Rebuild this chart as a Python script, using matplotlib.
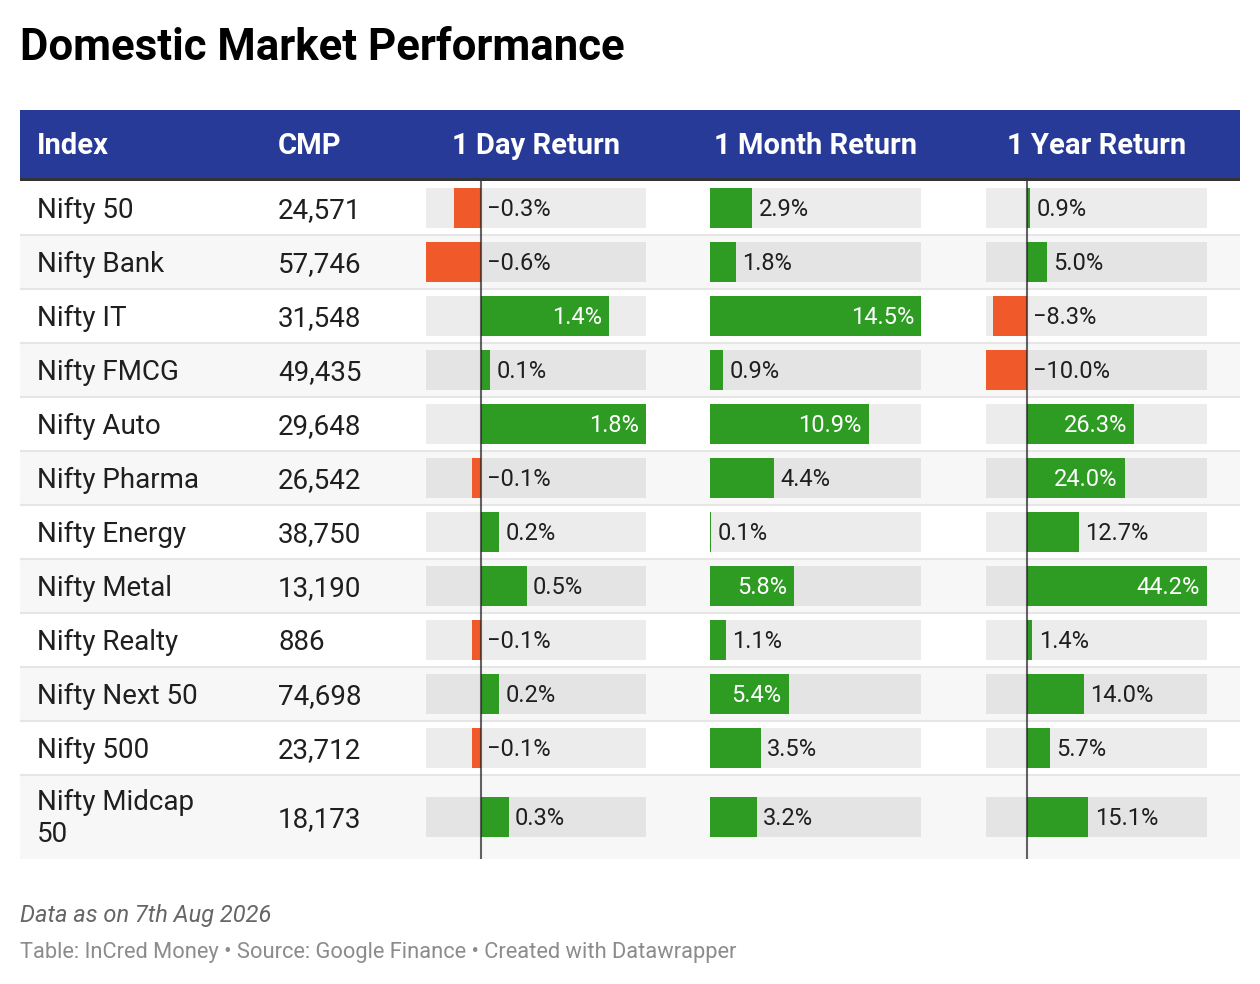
import numpy as np
import matplotlib
matplotlib.use('Agg')
import matplotlib.pyplot as plt
from matplotlib.patches import Rectangle


indices = ['Nifty 50', 'Nifty Bank', 'Nifty IT', 'Nifty FMCG', 'Nifty Auto', 'Nifty Pharma',
           'Nifty Energy', 'Nifty Metal', 'Nifty Realty', 'Nifty Next 50', 'Nifty 500',
           'Nifty Midcap\n50']
cmp_values = ['24,571', '57,746', '31,548', '49,435', '29,648', '26,542',
              '38,750', '13,190', '886', '74,698', '23,712', '18,173']
day_return = [-0.3, -0.6, 1.4, 0.1, 1.8, -0.1, 0.2, 0.5, -0.1, 0.2, -0.1, 0.3]
month_return = [2.9, 1.8, 14.5, 0.9, 10.9, 4.4, 0.1, 5.8, 1.1, 5.4, 3.5, 3.2]
year_return = [0.9, 5.0, -8.3, -10.0, 26.3, 24.0, 12.7, 44.2, 1.4, 14.0, 5.7, 15.1]
headers = ['Index', 'CMP', '1 Day Return', '1 Month Return', '1 Year Return']

title = 'Domestic Market Performance'
note = 'Data as on 7th Aug 2026'
credit = 'Table: InCred Money \u2022 Source: Google Finance \u2022 Created with Datawrapper'

plt.rcParams['font.family'] = ['Roboto', 'DejaVu Sans']

W, H = 1260, 984
BLUE = '#283a97'
GREEN = '#2e9b23'
ORANGE = '#f05a2b'
TEXT = '#1f1f1f'


def cap(pt):
    # cap height in px for Roboto at 100 dpi
    return 0.711 * pt * 100 / 72


def px_box(x0, y0, x1, y1):
    return [x0 / W, 1 - y1 / H, (x1 - x0) / W, (y1 - y0) / H]


fig = plt.figure(figsize=(W / 100, H / 100), dpi=100)
lay = fig.add_axes([0, 0, 1, 1])
lay.set_xlim(0, W)
lay.set_ylim(H, 0)
lay.axis('off')

# layout in px
left, right = 20, 1240
head_top, head_bot = 110, 178
body_top = 181
row_h = [54] * (len(indices) - 1) + [84]
edges = body_top + np.concatenate([[0], np.cumsum(row_h)])
centers = (edges[:-1] + edges[1:]) / 2
body_bot = edges[-1]
name_x, cmp_x = 37, 278
tracks = [(day_return, 426, 646), (month_return, 710, 921), (year_return, 986, 1207)]

ROW_PT, HEAD_PT, LAB_PT = 20, 21, 17
LINE_GAP = 30

# title
lay.text(20, 60, title, fontsize=31.5, weight='bold', color='black', va='baseline')

# header band
lay.add_patch(Rectangle((left, head_top), right - left, head_bot - head_top, color=BLUE, lw=0))
lay.add_patch(Rectangle((left, head_bot), right - left, body_top - head_bot, color='#333333', lw=0))
head_base = (head_top + head_bot) / 2 + cap(HEAD_PT) / 2
head_x = [name_x, cmp_x] + [(a + b) / 2 for _, a, b in tracks]
for i, (h, x) in enumerate(zip(headers, head_x)):
    lay.text(x, head_base, h, fontsize=HEAD_PT, weight='bold', color='white',
             va='baseline', ha='left' if i < 2 else 'center')

# rows
for i in range(len(indices)):
    bg = 'white' if i % 2 == 0 else '#f7f7f7'
    lay.add_patch(Rectangle((left, edges[i]), right - left, row_h[i], color=bg, lw=0))
lay.hlines(edges[1:-1], left, right, color='#e6e6e6', lw=1.5)

for name, val, c in zip(indices, cmp_values, centers):
    n = name.count('\n') + 1
    # va='baseline' on multi-line text pins the last line
    y = c + (n - 1) * LINE_GAP / 2 + cap(ROW_PT) / 2
    lay.text(name_x, y, name, fontsize=ROW_PT, color=TEXT, va='baseline', linespacing=1.25)
    lay.text(cmp_x, c + cap(ROW_PT) / 2, val, fontsize=ROW_PT, color=TEXT, va='baseline')

# bar columns
for vals, x0, x1 in tracks:
    ax = fig.add_axes(px_box(x0, body_top, x1, body_bot))
    ax.set_ylim(body_bot, body_top)
    lo, hi = min(min(vals), 0), max(max(vals), 0)
    ax.set_xlim(lo, hi)
    ax.axis('off')
    ax.patch.set_alpha(0)
    ax.barh(centers, hi - lo, left=lo, height=40, color='black', alpha=0.075, lw=0)
    ax.barh(centers, vals, height=40, lw=0,
            color=[GREEN if v >= 0 else ORANGE for v in vals])
    if lo < 0:
        ax.axvline(0, color='#222222', alpha=0.7, lw=1.5)
    ppu = (x1 - x0) / (hi - lo)
    for v, c in zip(vals, centers):
        lab = f'{v:.1f}%'.replace('-', '\u2212')
        y = c + cap(LAB_PT) / 2
        if v > 0 and v * ppu > 70:
            ax.annotate(lab, (v, y), xytext=(-5, 0), textcoords='offset points',
                        ha='right', va='baseline', color='white', fontsize=LAB_PT,
                        annotation_clip=False)
        else:
            ax.annotate(lab, (max(v, 0), y), xytext=(4.5, 0), textcoords='offset points',
                        ha='left', va='baseline', color=TEXT, fontsize=LAB_PT,
                        annotation_clip=False)

# footer
lay.text(20, 922, note, fontsize=17, style='italic', color='#666666', va='baseline')
lay.text(20, 958, credit, fontsize=15.75, color='#8c8c8c', va='baseline')

fig.savefig('out.png', dpi=100)
